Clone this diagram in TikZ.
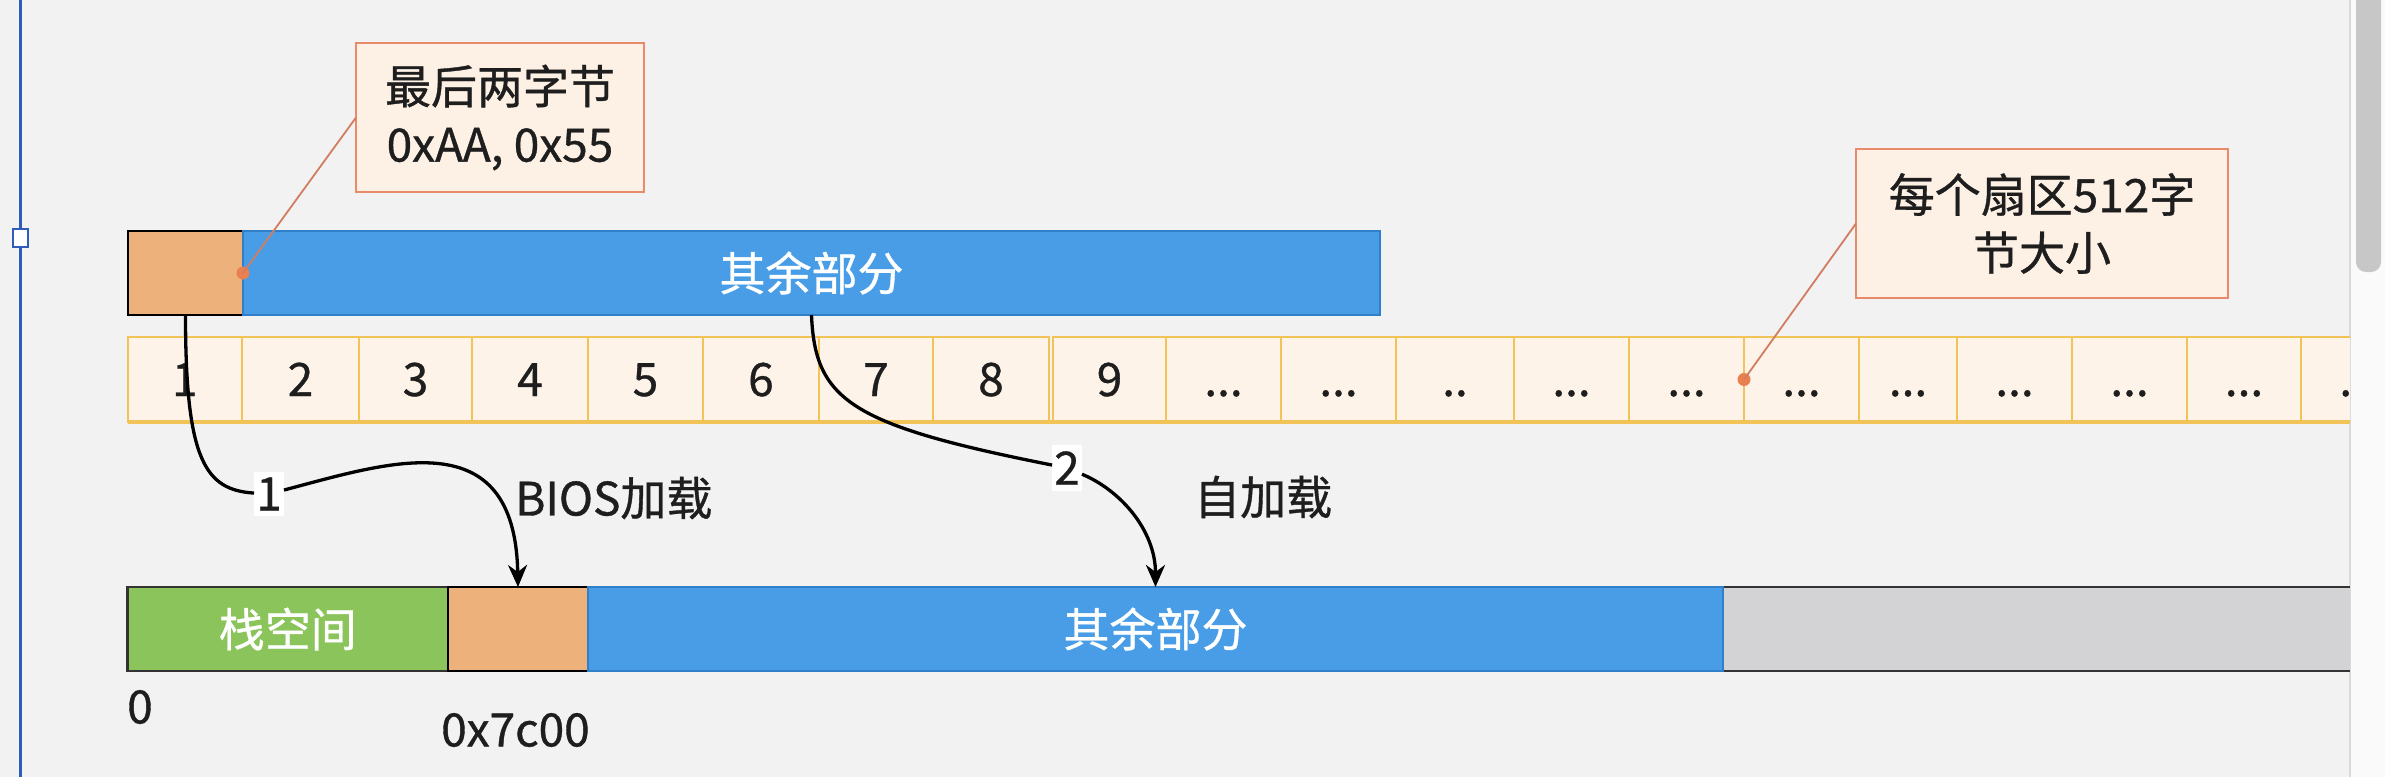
\documentclass[tikz,border=0pt]{standalone}
\usepackage{fontspec}
\setmainfont{Noto Sans CJK SC}[FakeBold=0.8]
\usetikzlibrary{arrows.meta}
\definecolor{bg}{HTML}{F2F2F2}
\definecolor{cellfill}{HTML}{FDF3E9}
\definecolor{cellline}{HTML}{F2C458}
\definecolor{calfill}{HTML}{FDF1E5}
\definecolor{calline}{HTML}{E98A6B}
\definecolor{orng}{HTML}{EDB27B}
\definecolor{blu}{HTML}{489DE6}
\definecolor{bluline}{HTML}{2F80C9}
\definecolor{grn}{HTML}{8BC45A}
\definecolor{gry}{HTML}{D3D2D5}
\definecolor{dotc}{HTML}{E9804F}
\definecolor{txt}{HTML}{1E1E1E}
\definecolor{sel}{HTML}{2E5CB8}
\newcommand\myfs{\fontsize{46pt}{58pt}\selectfont}
\newcommand\dthree{...}
\newcommand\dtwo{..}
\tikzset{
  base/.style={inner sep=0pt, outer sep=0pt, anchor=north west, font=\myfs},
  cellbox/.style={base, draw=cellline, line width=2pt, fill=cellfill, minimum height=85pt, text height=33pt, text depth=0pt, text=txt},
  obox/.style={base, draw=black, line width=2.5pt, fill=orng, minimum height=84pt},
  bbox/.style={base, draw=bluline, line width=2pt, fill=blu, minimum height=84pt, text=white},
  gbox/.style={base, draw=black!80, line width=2.5pt, fill=grn, minimum height=84pt, text=white},
  callout/.style={base, draw=calline, line width=2pt, fill=calfill, minimum height=149pt, align=center, text=txt},
  dotn/.style={circle, fill=dotc, minimum size=13pt, inner sep=0pt},
  calconn/.style={draw=calline!90!black, line width=1.8pt},
  arr/.style={draw=black, line width=3.3pt, -{Stealth[length=22pt, width=19pt, inset=7pt]}},
  numlab/.style={fill=white, inner xsep=2pt, inner ysep=6pt, font=\myfs, text=txt},
  plainlab/.style={inner sep=0pt, font=\myfs, text=txt, anchor=west},
}
\begin{document}
\begin{tikzpicture}[x=1pt,y=-1pt]
\useasboundingbox (0,0) rectangle (2385,777);
\fill[bg] (0,0) rectangle (2385,777);
% window edge (selection line at left, scrollbar at right)
\fill[white!60!bg] (2350,0) rectangle (2385,777);
\draw[black!15, line width=1.5pt] (2350,0) -- (2350,777);
\fill[black!22, rounded corners=10pt] (2356,-20) rectangle (2381,272);
\draw[sel, line width=3pt] (20,0) -- (20,777);
\draw[sel, line width=2pt, fill=white] (13,229) rectangle (28,247);

% top row
\node[obox, minimum width=115pt] (ob1) at (128,231) {};
\node[bbox, minimum width=1137pt] (bb1) at (243,231) {其余部分};

% sectors
\begin{scope}
\clip (0,0) rectangle (2350,777);
\foreach \a/\b/\t [count=\i] in {127.5/242/1, 242/359/2, 359/472/3, 472/588/4, 588/703/5, 703/819/6, 819/933/7, 933/1049/8, 1053/1166/9, 1166/1281/\dthree, 1281/1396/\dthree, 1396/1514/\dtwo, 1514/1629/\dthree, 1629/1744/\dthree, 1744/1859/\dthree, 1859/1957/\dthree, 1957/2072/\dthree, 2072/2187/\dthree, 2187/2301/\dthree, 2301/2416/\dthree}{
  \pgfmathsetmacro\w{\b-\a}
  \node[cellbox, minimum width=\w pt] (s\i) at (\a,337) {\t};
}
\draw[cellline, line width=4pt] (127.5,422) -- (2350,422);
\end{scope}

% bottom row
\node[gbox, minimum width=320.5pt] (gb) at (127.5,587) {栈空间};
\node[obox, minimum width=140pt] (ob2) at (448,587) {};
\fill[gry] (1723,587) rectangle (2350,671);
\draw[black!80, line width=2.5pt] (1723,587) -- (2350,587) (1723,671) -- (2350,671);
\node[bbox, minimum width=1135pt] (bb2) at (588,587) {其余部分};

\node[plainlab] (z0) at (127,707) {0};
\node[plainlab] (z7c) at (441,730) {0x7c00};

% callouts
\node[callout, minimum width=288pt] (c1) at (356,43) {最后两字节\\0xAA, 0x55};
\node[dotn] (d1) at (ob1.east) {};
\draw[calconn] (c1.west) -- (d1.center);
\node[callout, minimum width=372pt] (c2) at (1856,149) {每个扇区512字\\节大小};
\node[dotn] (d2) at (s14.east) {};
\draw[calconn] (c2.west) -- (d2.center);

% arrow 1
\node[numlab] (l1) at (269,494) {1};
\draw[draw=black, line width=3.3pt] (ob1.south) .. controls (185.5,460) and (205,490) .. (l1);
\draw[arr] (l1) .. controls (390,462) and (515,420) .. (ob2.north);
\node[plainlab] (bios) at (515,498) {BIOS加载};

% arrow 2
\node[numlab] (l2) at (1067,468) {2};
\draw[draw=black, line width=3.3pt] (bb1.south) .. controls (815,400) and (850,425) .. (l2);
\draw[arr] (l2) .. controls (1120,490) and (1155.5,530) .. (bb2.north);
\node[plainlab] (self) at (1194,497) {自加载};
\end{tikzpicture}
\end{document}
